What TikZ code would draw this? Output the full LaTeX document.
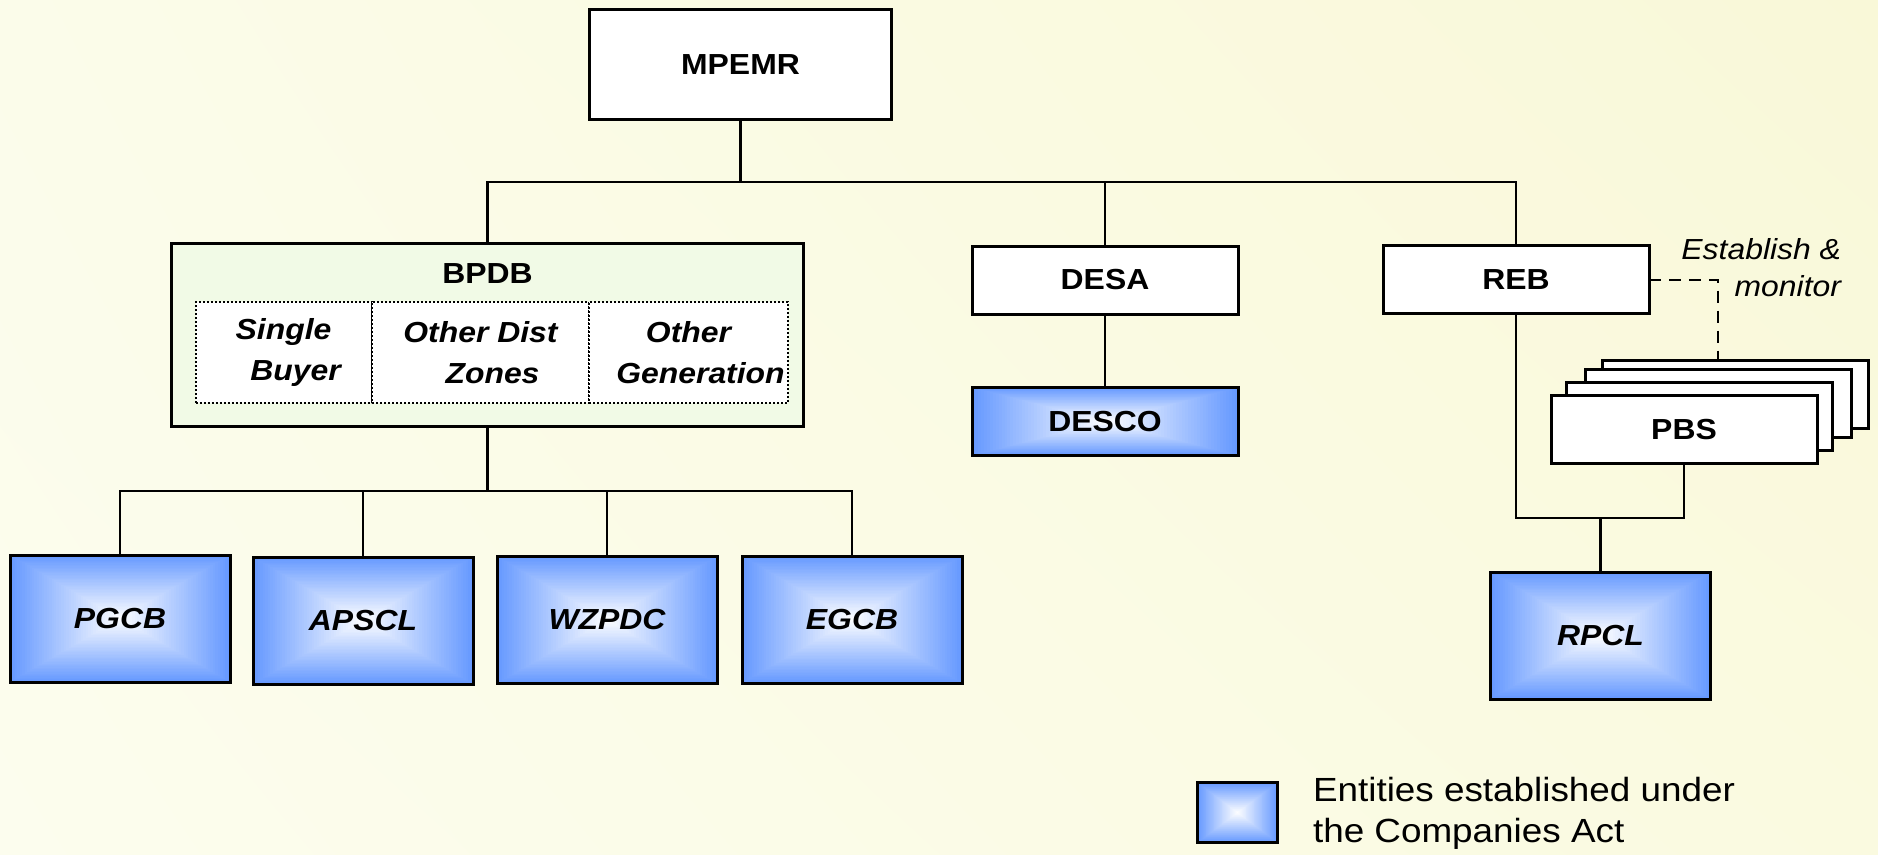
\documentclass[tikz,border=0pt]{standalone}
\usepackage{fontspec}
\setmainfont{Liberation Sans}[FakeStretch=1.1]
\usetikzlibrary{positioning,shadings,calc}
\definecolor{bgUL}{HTML}{FBFCEA}
\definecolor{bgUR}{HTML}{F9F8D8}
\definecolor{bgLL}{HTML}{FCFDEE}
\definecolor{bgLR}{HTML}{FAFAE0}
\definecolor{boxblue}{HTML}{6699FF}
\definecolor{bpdbgreen}{HTML}{F1FAE6}
\begin{document}
\begin{tikzpicture}[x=1pt,y=-1pt,
  every node/.style={inner sep=0pt, outer sep=0pt},
  lbl/.style={font=\fontsize{29}{34}\selectfont\bfseries},
  wbox/.style={draw, line width=3pt, fill=white, minimum width=266pt, minimum height=68pt, lbl},
  gbox/.style={draw, line width=3pt, fill=boxblue, minimum width=220pt, minimum height=127pt, lbl,
    path picture={
      \foreach \k in {0,...,44}{
        \pgfmathsetmacro\ff{1-\k/45}
        \pgfmathsetmacro\pp{100-\k*100/45}
        \fill[boxblue!\pp!white] ($(path picture bounding box.center)!\ff!(path picture bounding box.north west)$) rectangle ($(path picture bounding box.center)!\ff!(path picture bounding box.south east)$);
      }
    }},
  dbox/.style={draw, line width=2pt, dash pattern=on 2pt off 2pt, fill=white, minimum height=101pt, align=center,
    font=\fontsize{29}{41}\selectfont\bfseries\itshape},
  conn/.style={line width=2.5pt},
  dconn/.style={line width=2pt, dash pattern=on 12pt off 8pt}
]
\useasboundingbox (0,0) rectangle (1878,854);
\shade[upper left=bgUL, upper right=bgUR, lower left=bgLL, lower right=bgLR] (0,0) rectangle (1878,854);

% top
\node[wbox, minimum width=302pt, minimum height=110pt] (mpemr) at (740.5,64.5) {MPEMR};

% BPDB group
\node[draw, line width=3pt, fill=bpdbgreen, minimum width=632pt, minimum height=183pt] (bpdb) at (487.5,335) {};
\node[lbl] (bpdbl) at (487.5,274) {BPDB};
\node[dbox, minimum width=176pt] (sb) at (283.5,352.5) {Single\\\hspace*{24pt}Buyer};
\node[dbox, minimum width=217pt] (odz) at (480.5,352.5) {Other Dist\\\hspace*{24pt}Zones};
\node[dbox, minimum width=199pt] (og) at (688.5,352.5) {Other\\\hspace*{24pt}Generation};

% DESA / DESCO
\node[wbox] (desa) at (1105,280) {DESA};
\node[gbox, minimum width=266pt, minimum height=68pt] (desco) at (1105,421.5) {DESCO};

% REB / PBS / RPCL
\node[wbox] (reb) at (1516,279.5) {REB};
\node[wbox] (pbs4) at (1735,394) {};
\node[wbox] (pbs3) at (1718.5,403.5) {};
\node[wbox] (pbs2) at (1699.5,416.5) {};
\node[wbox] (pbs) at (1684,429.5) {PBS};
\node[gbox, font=\fontsize{29}{34}\selectfont\bfseries\itshape] (rpcl) at (1600.5,635.5) {RPCL};
\node[font=\fontsize{29}{37}\selectfont\itshape, align=right, anchor=north east] (estab) at (1841,238) {Establish \&\\monitor};

% bottom row
\node[gbox, font=\fontsize{29}{34}\selectfont\bfseries\itshape] (pgcb) at (120,618.5) {PGCB};
\node[gbox, font=\fontsize{29}{34}\selectfont\bfseries\itshape] (apscl) at (363,620.5) {APSCL};
\node[gbox, font=\fontsize{29}{34}\selectfont\bfseries\itshape] (wzpdc) at (607,620) {WZPDC};
\node[gbox, font=\fontsize{29}{34}\selectfont\bfseries\itshape] (egcb) at (852,619.5) {EGCB};

% legend
\node[gbox, minimum width=80pt, minimum height=60pt] (legbox) at (1237.5,812.5) {};
\node[anchor=north west, align=left, font=\fontsize{33.5}{41}\selectfont] (legtext) at (1313,777) {Entities established under\\the Companies Act};

% connectors
\coordinate (busy) at (0,182);
\coordinate (b2y) at (0,491);
\coordinate (jy) at (0,518);
\draw[conn] (mpemr.south) -- (mpemr.south |- busy);
\draw[conn] (bpdb.north) -- (bpdb.north |- busy) -| (reb.north);
\draw[conn] (desa.north) -- (desa.north |- busy);
\draw[conn] (desa.south) -- (desco.north);
\draw[conn] (bpdb.south) -- (bpdb.south |- b2y);
\draw[conn] (pgcb.north) -- (pgcb.north |- b2y) -| (egcb.north);
\draw[conn] (apscl.north) -- (apscl.north |- b2y);
\draw[conn] (wzpdc.north) -- (wzpdc.north |- b2y);
\draw[conn] (reb.south) -- (reb.south |- jy) -| (pbs.south);
\draw[conn] (rpcl.north) -- (rpcl.north |- jy);
\draw[dconn] (reb.east) -- ++(69,0) coordinate (dc) -- (dc |- pbs4.north);
\end{tikzpicture}
\end{document}
